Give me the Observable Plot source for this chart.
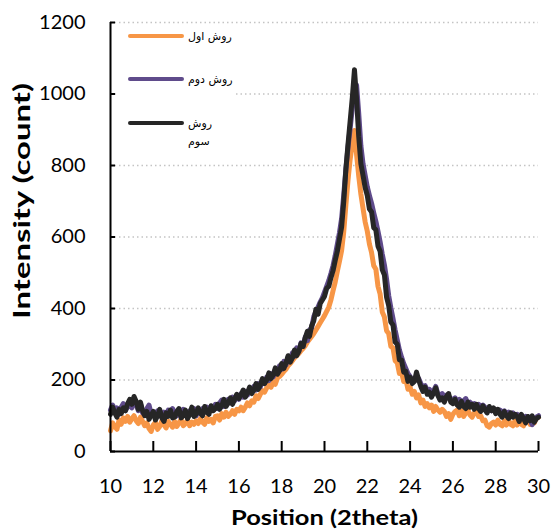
<!DOCTYPE html>
<html>
<head>
<meta charset="utf-8">
<script src="https://cdn.jsdelivr.net/npm/d3@7"></script>
<script src="https://cdn.jsdelivr.net/npm/@observablehq/plot@0.6"></script>
<style>
  html, body { margin: 0; padding: 0; background: white; }
  #chart svg { display: block; }
</style>
</head>
<body>
<div id="chart"></div>
<script>
// x positions (2theta), sampled every 0.1 degree from 10 to 30
const theta = d3.range(201).map(i => +(10 + i * 0.1).toFixed(1));

const method1 = [ // روش اول (orange)
  58,80,70,62,88,76,94,84,98,82,
  92,100,86,78,96,84,72,80,64,56,
  74,82,62,70,86,74,66,84,76,68,
  84,70,80,90,72,78,88,72,82,76,
  86,78,92,82,76,94,84,90,80,98,
  100,88,106,96,110,98,104,114,104,118,
  114,124,114,124,136,128,142,138,156,148,
  160,170,166,178,186,180,194,188,206,210,
  216,224,230,240,246,254,262,268,274,282,
  288,296,306,314,322,330,340,350,360,370,
  380,392,404,424,450,474,504,532,562,615,
  690,760,818,862,898,830,770,720,680,642,
  616,580,556,520,510,462,440,390,376,338,
  330,294,290,254,248,218,222,196,202,174,
  180,160,168,150,158,136,144,126,134,122,
  130,112,126,116,110,118,112,98,106,90,
  104,112,116,100,114,98,108,116,102,96,
  108,112,98,100,86,88,72,68,78,82,
  74,88,76,72,86,74,88,76,72,86,
  74,88,76,72,86,90,76,92,80,94,
  96
];

const method2 = [ // روش دوم (purple)
  116,130,110,122,104,124,134,116,124,138,
  122,144,132,114,134,108,104,120,130,106,
  104,98,114,102,96,110,104,116,102,120,
  108,100,114,102,118,106,100,114,106,120,
  100,116,106,120,110,124,112,126,116,132,
  120,136,144,126,138,146,136,152,142,156,
  146,162,152,168,158,174,164,182,172,190,
  180,200,190,208,198,218,208,228,218,240,
  230,252,242,264,254,276,266,290,280,304,
  294,320,310,340,346,378,392,404,418,430,
  446,462,478,498,520,548,580,612,652,718,
  790,852,905,960,1010,1025,945,855,805,772,
  740,716,694,668,644,616,586,552,522,482,
  436,402,372,340,312,284,264,246,232,218,
  210,200,198,210,204,190,180,184,172,174,
  166,170,182,160,156,162,152,158,154,148,
  144,150,140,146,138,142,148,134,138,132,
  134,128,132,126,130,124,118,122,114,120,
  116,112,116,110,114,106,110,104,108,102,
  104,96,100,92,98,88,90,75,86,96,
  100
];

const method3 = [ // روش سوم (black)
  104,124,108,96,118,106,122,114,134,146,
  132,154,140,118,138,114,100,112,90,102,
  112,88,100,118,94,84,108,98,116,94,
  96,112,120,94,100,116,92,104,124,98,
  104,122,108,100,126,110,104,128,114,120,
  132,118,128,146,126,136,150,132,146,160,
  148,158,172,152,164,180,162,172,190,174,
  186,204,190,200,220,204,214,234,216,226,
  246,232,248,268,250,262,284,268,280,302,
  294,318,336,322,352,366,398,384,414,424,
  434,456,462,486,506,534,560,594,628,700,
  790,860,925,990,1068,985,880,805,772,738,
  716,678,670,626,620,574,560,508,494,432,
  408,362,354,306,300,256,256,222,224,196,
  208,190,196,222,200,182,168,180,160,166,
  152,164,178,156,144,150,138,154,162,138,
  134,146,130,124,140,126,120,138,124,132,
  118,132,120,112,128,116,108,126,114,122,
  106,118,104,96,112,100,92,108,96,104,
  98,84,104,92,80,98,86,100,82,92,
  96
];

const seriesNames = ["روش اول", "روش دوم", "روش سوم"];
const seriesColors = ["#F79646", "#5F4B8B", "#262626"];
const xTicks = [10, 12, 14, 16, 18, 20, 22, 24, 26, 28, 30];
const yTicks = [0, 200, 400, 600, 800, 1000, 1200];
const xLabel = "Position (2theta)";
const yLabel = "Intensity (count)";

const rows = [];
[method1, method2, method3].forEach((vals, s) => {
  vals.forEach((v, i) => rows.push({series: seriesNames[s], x: theta[i], y: v}));
});

const chart = Plot.plot({
  width: 555,
  height: 531,
  marginLeft: 110,
  marginRight: 17,
  marginTop: 22,
  marginBottom: 80,
  style: {fontFamily: "Lato, 'DejaVu Sans', sans-serif", fontSize: "20px", background: "white", color: "black"},
  x: {domain: [10, 30]},
  y: {domain: [0, 1200]},
  marks: [
    Plot.gridY(yTicks.filter(d => d > 0), {stroke: "#c4c4c4", strokeOpacity: 1, strokeWidth: 1.5, strokeDasharray: "1.5,3"}),
    ...seriesNames.map((name, s) =>
      Plot.line(rows.filter(r => r.series === name), {
        x: "x", y: "y", stroke: seriesColors[s], strokeWidth: 5,
        strokeLinejoin: "round", strokeLinecap: "round"
      })
    ),
    Plot.ruleX([10], {stroke: "black", strokeWidth: 2}),
    Plot.ruleY([0], {stroke: "black", strokeWidth: 2}),
    Plot.axisX({ticks: xTicks, tickSize: -10, tickPadding: 37, strokeWidth: 2, fontSize: 20, label: null, tickFormat: d3.format("d")}),
    Plot.axisY({ticks: yTicks, tickSize: -5, tickPadding: 30, strokeWidth: 2, fontSize: 20, label: null, tickFormat: d3.format("d")}),
    Plot.text([xLabel], {frameAnchor: "bottom", textAnchor: "middle", lineAnchor: "middle", dy: 67, fontWeight: "bold", fontSize: 21}),
    Plot.text([yLabel], {frameAnchor: "left", textAnchor: "middle", lineAnchor: "middle", dx: -88, dy: -36, rotate: -90, fontWeight: "bold", fontSize: 22})
  ]
});

const svg = d3.select(chart);
// stretch axis titles to the reference extents
svg.selectAll("text").filter(function() { return this.textContent === xLabel; })
  .attr("textLength", 187).attr("lengthAdjust", "spacingAndGlyphs");
svg.selectAll("text").filter(function() { return this.textContent === yLabel; })
  .attr("textLength", 236).attr("lengthAdjust", "spacingAndGlyphs");

// Legend inside the plot area
const lg = svg.append("g").attr("font-family", "'DejaVu Sans', sans-serif").attr("font-size", 11);
lg.append("rect").attr("x", 117).attr("y", 25).attr("width", 116).attr("height", 130).attr("fill", "white");
const legendY = [36, 79, 123];
seriesNames.forEach((name, i) => {
  lg.append("line")
    .attr("x1", 130).attr("x2", 182)
    .attr("y1", legendY[i]).attr("y2", legendY[i])
    .attr("stroke", seriesColors[i]).attr("stroke-width", 4).attr("stroke-linecap", "round");
  const words = i === 2 ? name.split(" ") : [name];
  words.forEach((w, j) => {
    lg.append("text")
      .attr("x", 188).attr("y", legendY[i] + 4 + j * 18)
      .attr("direction", "rtl").attr("text-anchor", "end")
      .attr("fill", "black").text(w);
  });
});

document.getElementById("chart").append(chart);
</script>
</body>
</html>
